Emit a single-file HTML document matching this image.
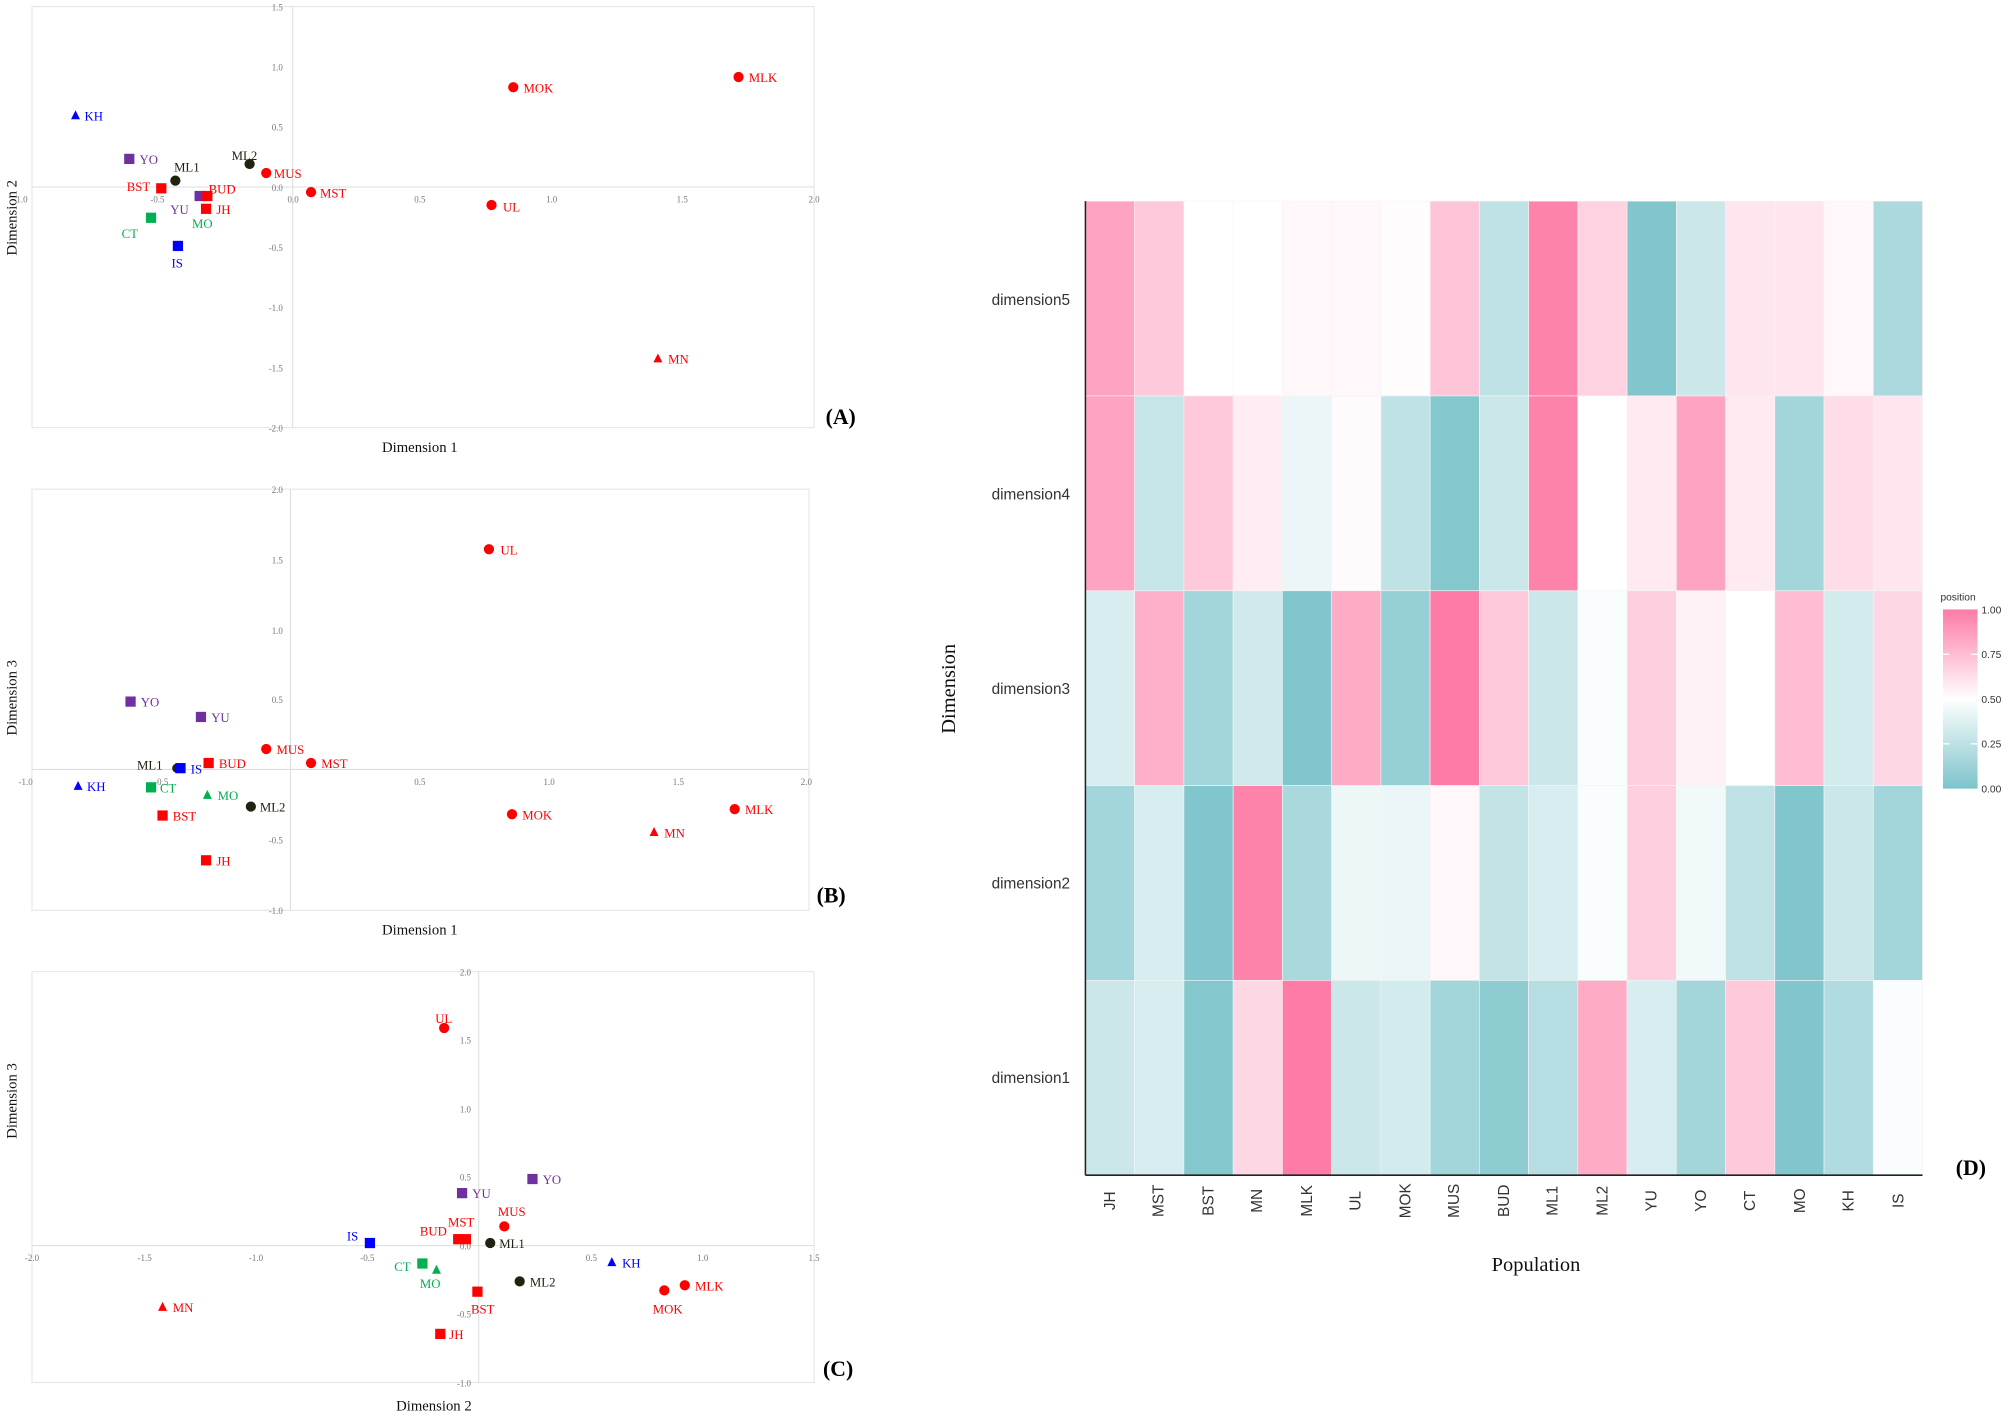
<!DOCTYPE html>
<html><head><meta charset="utf-8"><style>
html,body{margin:0;padding:0;background:#fff;}
svg{display:block;}
.t{font-family:"Liberation Serif",serif;font-size:7px;fill:#777;}
.l{font-family:"Liberation Serif",serif;font-size:10px;}
.ax{font-family:"Liberation Serif",serif;font-size:11.5px;fill:#111;}
.pl{font-family:"Liberation Serif",serif;font-size:17px;font-weight:bold;fill:#000;}
.h{font-family:"Liberation Sans",sans-serif;font-size:12px;fill:#333;}
.lg{font-family:"Liberation Sans",sans-serif;font-size:8px;fill:#333;}
.r{fill:#ff0000}.b{fill:#0000ff}.p{fill:#7030a0}.g{fill:#00b050}.k{fill:#222211}
</style></head><body>
<svg width="2007" height="1416" viewBox="0 0 1568 1106" xmlns="http://www.w3.org/2000/svg">
<defs>
<linearGradient id="lgd" x1="0" y1="1" x2="0" y2="0">
<stop offset="0" stop-color="#7cc4cb"/><stop offset="0.5" stop-color="#ffffff"/><stop offset="1" stop-color="#fd7ba6"/>
</linearGradient>
</defs>
<!-- Panel A -->
<rect x="25" y="5" width="611" height="329" fill="none" stroke="#e3e3e3" stroke-width="0.8"/>
<line x1="228.7" y1="5" x2="228.7" y2="334" stroke="#ddd" stroke-width="0.8"/>
<line x1="25" y1="146" x2="636" y2="146" stroke="#ddd" stroke-width="0.8"/>
<g class="t" text-anchor="middle">
<text x="16" y="158">-1.0</text><text x="123" y="158">-0.5</text><text x="229" y="158">0.0</text><text x="328" y="158">0.5</text><text x="431" y="158">1.0</text><text x="533" y="158">1.5</text><text x="636" y="158">2.0</text>
</g>
<g class="t" text-anchor="end">
<text x="221" y="8">1.5</text><text x="221" y="55">1.0</text><text x="221" y="102">0.5</text><text x="221" y="149">0.0</text><text x="221" y="196">-0.5</text><text x="221" y="243">-1.0</text><text x="221" y="290">-1.5</text><text x="221" y="337">-2.0</text>
</g>
<polygon class="b" points="59,86 55.5,93 62.5,93"/><text class="l b" x="66" y="94">KH</text>
<rect class="p" x="97" y="120" width="8" height="8"/><text class="l p" x="109" y="128">YO</text>
<circle class="k" cx="137" cy="141" r="4"/><text class="l k" x="136" y="134">ML1</text>
<circle class="k" cx="195" cy="128" r="4"/><text class="l k" x="181" y="125">ML2</text>
<circle class="r" cx="208" cy="135" r="4"/><text class="l r" x="214" y="139">MUS</text>
<circle class="r" cx="243" cy="150" r="4"/><text class="l r" x="250" y="154">MST</text>
<rect class="r" x="122" y="143" width="8" height="8"/><text class="l r" x="99" y="149">BST</text>
<rect class="p" x="152" y="149" width="8" height="8"/><rect class="r" x="158" y="149" width="8" height="8"/><text class="l r" x="163" y="151">BUD</text>
<rect class="r" x="157" y="159" width="8" height="8"/><text class="l r" x="169" y="167">JH</text>
<text class="l p" x="133" y="167">YU</text>
<rect class="g" x="114" y="166" width="8" height="8"/><text class="l g" x="95" y="186">CT</text>
<text class="l g" x="150" y="178">MO</text>
<rect class="b" x="135" y="188" width="8" height="8"/><text class="l b" x="134" y="209">IS</text>
<circle class="r" cx="401" cy="68" r="4"/><text class="l r" x="409" y="72">MOK</text>
<circle class="r" cx="577" cy="60" r="4"/><text class="l r" x="585" y="64">MLK</text>
<circle class="r" cx="384" cy="160" r="4"/><text class="l r" x="393" y="165">UL</text>
<polygon class="r" points="514,276 510.5,283 517.5,283"/><text class="l r" x="522" y="284">MN</text>
<text class="pl" x="645" y="331">(A)</text>
<text class="ax" x="328" y="353" text-anchor="middle">Dimension 1</text>
<text class="ax" transform="translate(13,170) rotate(-90)" text-anchor="middle">Dimension 2</text>

<!-- Panel B -->
<rect x="25" y="382" width="607" height="329" fill="none" stroke="#e3e3e3" stroke-width="0.8"/>
<line x1="227" y1="382" x2="227" y2="711" stroke="#ddd" stroke-width="0.8"/>
<line x1="25" y1="601" x2="632" y2="601" stroke="#ddd" stroke-width="0.8"/>
<g class="t" text-anchor="middle">
<text x="20" y="613">-1.0</text><text x="126" y="613">-0.5</text><text x="328" y="613">0.5</text><text x="429" y="613">1.0</text><text x="530" y="613">1.5</text><text x="630" y="613">2.0</text>
</g>
<g class="t" text-anchor="end">
<text x="221" y="385">2.0</text><text x="221" y="440">1.5</text><text x="221" y="495">1.0</text><text x="221" y="549">0.5</text><text x="221" y="659">-0.5</text><text x="221" y="714">-1.0</text>
</g>
<circle class="r" cx="382" cy="429" r="4"/><text class="l r" x="391" y="433">UL</text>
<rect class="p" x="98" y="544" width="8" height="8"/><text class="l p" x="110" y="552">YO</text>
<rect class="p" x="153" y="556" width="8" height="8"/><text class="l p" x="165" y="564">YU</text>
<circle class="r" cx="208" cy="585" r="4"/><text class="l r" x="216" y="589">MUS</text>
<circle class="r" cx="243" cy="596" r="4"/><text class="l r" x="251" y="600">MST</text>
<rect class="r" x="159" y="592" width="8" height="8"/><text class="l r" x="171" y="600">BUD</text>
<text class="l k" x="107" y="601">ML1</text>
<circle class="k" cx="138" cy="600" r="3.5"/>
<rect class="b" x="137" y="596" width="8" height="8"/><text class="l b" x="149" y="604">IS</text>
<polygon class="b" points="61,610 57.5,617 64.5,617"/><text class="l b" x="68" y="618">KH</text>
<rect class="g" x="114" y="611" width="8" height="8"/><text class="l g" x="125" y="619">CT</text>
<polygon class="g" points="162,617 158.5,624 165.5,624"/><text class="l g" x="170" y="625">MO</text>
<circle class="k" cx="196" cy="630" r="4"/><text class="l k" x="203" y="634">ML2</text>
<rect class="r" x="123" y="633" width="8" height="8"/><text class="l r" x="135" y="641">BST</text>
<rect class="r" x="157" y="668" width="8" height="8"/><text class="l r" x="169" y="676">JH</text>
<circle class="r" cx="400" cy="636" r="4"/><text class="l r" x="408" y="640">MOK</text>
<polygon class="r" points="511,646 507.5,653 514.5,653"/><text class="l r" x="519" y="654">MN</text>
<circle class="r" cx="574" cy="632" r="4"/><text class="l r" x="582" y="636">MLK</text>
<text class="pl" x="638" y="705">(B)</text>
<text class="ax" x="328" y="730" text-anchor="middle">Dimension 1</text>
<text class="ax" transform="translate(13,545) rotate(-90)" text-anchor="middle">Dimension 3</text>

<!-- Panel C -->
<rect x="25" y="759" width="611" height="321" fill="none" stroke="#e3e3e3" stroke-width="0.8"/>
<line x1="374" y1="759" x2="374" y2="1080" stroke="#ddd" stroke-width="0.8"/>
<line x1="25" y1="973" x2="636" y2="973" stroke="#ddd" stroke-width="0.8"/>
<g class="t" text-anchor="middle">
<text x="25" y="985">-2.0</text><text x="113" y="985">-1.5</text><text x="200" y="985">-1.0</text><text x="287" y="985">-0.5</text><text x="462" y="985">0.5</text><text x="549" y="985">1.0</text><text x="636" y="985">1.5</text>
</g>
<g class="t" text-anchor="end">
<text x="368" y="762">2.0</text><text x="368" y="815">1.5</text><text x="368" y="869">1.0</text><text x="368" y="922">0.5</text><text x="368" y="976">0.0</text><text x="368" y="1029">-0.5</text><text x="368" y="1083">-1.0</text>
</g>
<circle class="r" cx="347" cy="803" r="4"/><text class="l r" x="340" y="799">UL</text>
<rect class="p" x="412" y="917" width="8" height="8"/><text class="l p" x="424" y="925">YO</text>
<rect class="p" x="357" y="928" width="8" height="8"/><text class="l p" x="369" y="936">YU</text>
<circle class="r" cx="394" cy="958" r="4"/><text class="l r" x="389" y="950">MUS</text>
<text class="l r" x="350" y="958">MST</text>
<rect class="r" x="354" y="964" width="8" height="8"/><rect class="r" x="360" y="964" width="8" height="8"/><text class="l r" x="328" y="965">BUD</text>
<circle class="k" cx="383" cy="971" r="4"/><text class="l k" x="390" y="975">ML1</text>
<rect class="b" x="285" y="967" width="8" height="8"/><text class="l b" x="271" y="969">IS</text>
<polygon class="b" points="478,982 474.5,989 481.5,989"/><text class="l b" x="486" y="990">KH</text>
<rect class="g" x="326" y="983" width="8" height="8"/><text class="l g" x="308" y="993">CT</text>
<polygon class="g" points="341,988 337.5,995 344.5,995"/><text class="l g" x="328" y="1006">MO</text>
<circle class="k" cx="406" cy="1001" r="4"/><text class="l k" x="414" y="1005">ML2</text>
<circle class="r" cx="535" cy="1004" r="4"/><text class="l r" x="543" y="1008">MLK</text>
<circle class="r" cx="519" cy="1008" r="4"/><text class="l r" x="510" y="1026">MOK</text>
<rect class="r" x="369" y="1005" width="8" height="8"/><text class="l r" x="368" y="1026">BST</text>
<polygon class="r" points="127,1017 123.5,1024 130.5,1024"/><text class="l r" x="135" y="1025">MN</text>
<rect class="r" x="340" y="1038" width="8" height="8"/><text class="l r" x="351" y="1046">JH</text>
<text class="pl" x="643" y="1075">(C)</text>
<text class="ax" x="339" y="1102" text-anchor="middle">Dimension 2</text>
<text class="ax" transform="translate(13,860) rotate(-90)" text-anchor="middle">Dimension 3</text>

<!-- Panel D heatmap -->
<g id="hm"></g>
<line x1="848" y1="157" x2="848" y2="918" stroke="#222" stroke-width="1.2"/>
<line x1="848" y1="918" x2="1502" y2="918" stroke="#222" stroke-width="1.2"/>
<g class="h" text-anchor="end">
<text x="836" y="238">dimension5</text><text x="836" y="390">dimension4</text><text x="836" y="542">dimension3</text><text x="836" y="694">dimension2</text><text x="836" y="846">dimension1</text>
</g>
<g class="h" text-anchor="middle">
<text transform="translate(871,938) rotate(-90)">JH</text>
<text transform="translate(909,938) rotate(-90)">MST</text>
<text transform="translate(948,938) rotate(-90)">BST</text>
<text transform="translate(986,938) rotate(-90)">MN</text>
<text transform="translate(1025,938) rotate(-90)">MLK</text>
<text transform="translate(1063,938) rotate(-90)">UL</text>
<text transform="translate(1102,938) rotate(-90)">MOK</text>
<text transform="translate(1140,938) rotate(-90)">MUS</text>
<text transform="translate(1179,938) rotate(-90)">BUD</text>
<text transform="translate(1217,938) rotate(-90)">ML1</text>
<text transform="translate(1256,938) rotate(-90)">ML2</text>
<text transform="translate(1294,938) rotate(-90)">YU</text>
<text transform="translate(1333,938) rotate(-90)">YO</text>
<text transform="translate(1371,938) rotate(-90)">CT</text>
<text transform="translate(1410,938) rotate(-90)">MO</text>
<text transform="translate(1448,938) rotate(-90)">KH</text>
<text transform="translate(1487,938) rotate(-90)">IS</text>
</g>
<text x="1200" y="993" text-anchor="middle" font-family="Liberation Serif,serif" font-size="16" fill="#111">Population</text>
<text transform="translate(746,538) rotate(-90)" text-anchor="middle" font-family="Liberation Serif,serif" font-size="16" fill="#111">Dimension</text>
<text class="lg" x="1516" y="469" font-size="9">position</text>
<rect x="1518" y="476" width="27" height="140" fill="url(#lgd)"/>
<g class="lg" font-size="7">
<text x="1548" y="479">1.00</text><text x="1548" y="514">0.75</text><text x="1548" y="549">0.50</text><text x="1548" y="584">0.25</text><text x="1548" y="619">0.00</text>
</g>
<g stroke="#fff" stroke-width="1"><line x1="1518" y1="511" x2="1523" y2="511"/><line x1="1540" y1="511" x2="1545" y2="511"/><line x1="1518" y1="546" x2="1523" y2="546"/><line x1="1540" y1="546" x2="1545" y2="546"/><line x1="1518" y1="581" x2="1523" y2="581"/><line x1="1540" y1="581" x2="1545" y2="581"/></g>
<text class="pl" x="1528" y="918">(D)</text>
</svg>
<script>
var v=[
[.85,.7,.5,.5,.53,.53,.51,.72,.25,.97,.67,.02,.3,.6,.6,.53,.18],
[.85,.28,.7,.57,.42,.52,.25,.03,.3,.97,.5,.58,.85,.58,.15,.63,.6],
[.35,.8,.15,.32,.02,.82,.1,1,.7,.3,.48,.68,.55,.5,.75,.33,.65],
[.15,.35,.02,.97,.17,.43,.42,.53,.27,.35,.48,.68,.45,.25,.02,.3,.15],
[.3,.35,.03,.65,1,.3,.33,.15,.07,.22,.82,.35,.15,.7,.02,.2,.48]];
function col(x){var a,b,t;if(x<.5){a=[124,196,203];b=[255,255,255];t=x/.5;}else{a=[255,255,255];b=[253,123,166];t=(x-.5)/.5;}
return 'rgb('+a.map(function(c,i){return Math.round(c+(b[i]-c)*t)}).join(',')+')';}
var g=document.getElementById('hm'),s='',w=(1502-848)/17,h=(918-157)/5;
for(var r=0;r<5;r++)for(var c=0;c<17;c++){s+='<rect x="'+(848+c*w)+'" y="'+(157+r*h)+'" width="'+w+'" height="'+h+'" fill="'+col(v[r][c])+'" stroke="#f4f4f4" stroke-width="0.5"/>';}
g.innerHTML=s;
</script>
</body></html>
